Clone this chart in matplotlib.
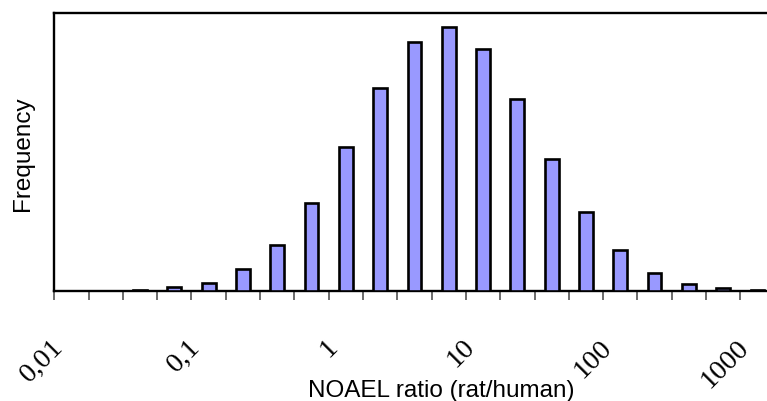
import matplotlib
matplotlib.use("Agg")
import matplotlib.pyplot as plt
import matplotlib.transforms as mtransforms
import numpy as np

# Data: frequency per log-spaced class (quarter-decade bins, 0.01 .. 1000)
categories = list(range(21))
frequency = [0, 0.5, 1.5, 3.7, 8.3, 21.7, 46, 87.7, 143.7, 202.7, 248.7,
             263.7, 242.3, 192.3, 132, 78.7, 40.7, 17.7, 7.5, 2.7, 1]
label_positions = [0, 4, 8, 12, 16, 20]
tick_labels = ["0,01", "0,1", "1", "10", "100", "1000"]

W, H = 767, 401
fig = plt.figure(figsize=(W / 100, H / 100), dpi=100)
ax = fig.add_axes([54.3 / W, (H - 291) / H, 720.3 / W, (291 - 12.7) / H])

ax.bar(categories, frequency, width=0.40, color="#9999FF",
       edgecolor="black", linewidth=1.9, zorder=3)

ax.set_xlim(-0.5, 20.5)
ax.set_ylim(0, 278.3)
ax.set_yticks([])

ax.set_xticks([])
ax.set_xticks(np.arange(-0.5, 21, 1.0), minor=True)
ax.tick_params(axis="x", which="minor", length=6.8, width=1.1,
               color="#444444", direction="out", labelbottom=False)

base = mtransforms.blended_transform_factory(ax.transData, ax.transAxes)
offset = mtransforms.ScaledTranslation(-21 / 100, -44 / 100, fig.dpi_scale_trans)
for pos, lab in zip(label_positions, tick_labels):
    ax.text(pos, 0, lab, transform=base + offset, rotation=45,
            rotation_mode="anchor", ha="right", va="top",
            fontfamily="Liberation Serif", fontsize=20.5, clip_on=False)

for side in ["top", "left", "bottom"]:
    ax.spines[side].set_linewidth(1.7)
    ax.spines[side].set_color("black")
ax.spines["right"].set_visible(False)

fig.text(441.5 / W, (H - 397) / H, "NOAEL ratio (rat/human)",
         ha="center", va="baseline", fontfamily="Liberation Sans",
         fontsize=17.5)
fig.text(23 / W, (H - 154) / H, "Frequency", rotation=90,
         ha="center", va="center", fontfamily="Liberation Sans",
         fontsize=17.5)

fig.savefig("out.png", dpi=100)
